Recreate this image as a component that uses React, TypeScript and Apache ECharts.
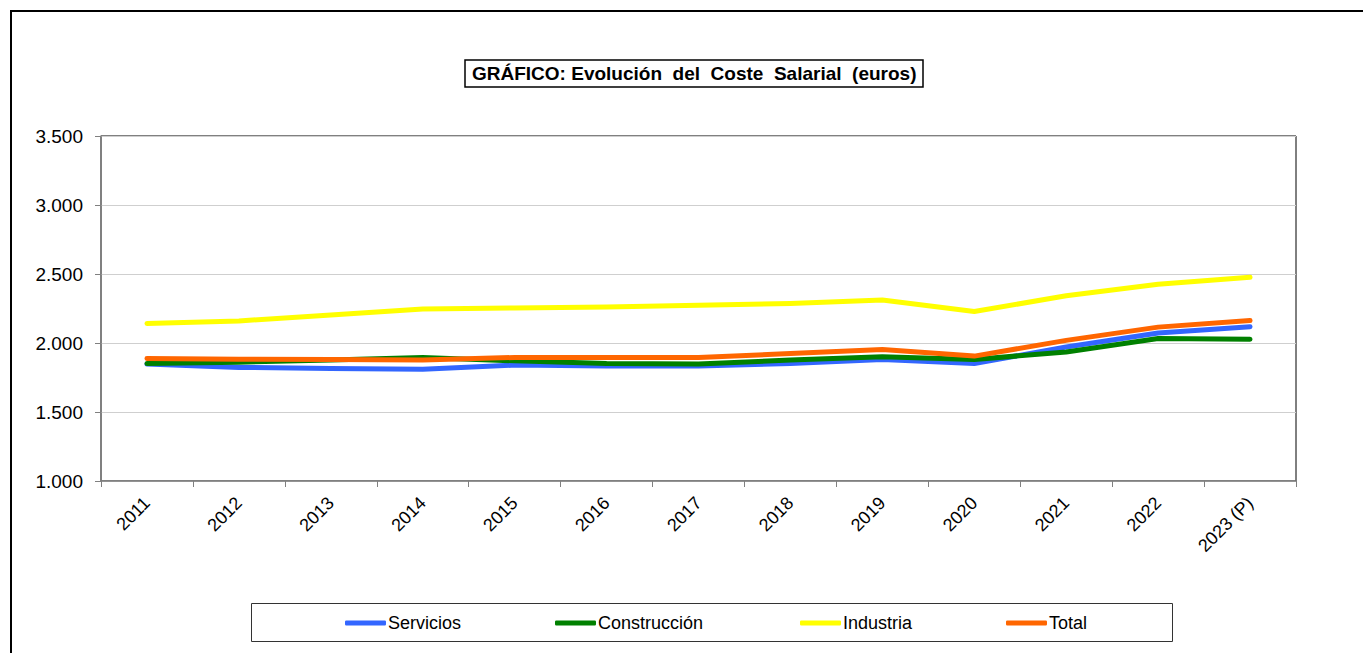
import React, { useEffect, useRef } from "react";
import * as echarts from "echarts";

const categories = ["2011", "2012", "2013", "2014", "2015", "2016", "2017", "2018", "2019", "2020", "2021", "2022", "2023 (P)"];
const servicios = [1847, 1823, 1816, 1809, 1840, 1833, 1833, 1852, 1881, 1852, 1971, 2072, 2118];
const construccion = [1852, 1861, 1876, 1895, 1871, 1852, 1848, 1876, 1900, 1881, 1935, 2032, 2027];
const industria = [2141, 2160, 2203, 2246, 2254, 2260, 2273, 2287, 2311, 2228, 2342, 2426, 2476];
const total = [1888, 1883, 1881, 1876, 1895, 1895, 1895, 1924, 1953, 1905, 2019, 2115, 2163];
const seriesNames = ["Servicios", "Construcción", "Industria", "Total"];
const seriesColors = ["#3366FF", "#008000", "#FFFF00", "#FF6600"];
const yTicks = { min: 1000, max: 3500, interval: 500 };
const titleText = "GRÁFICO: Evolución  del  Coste  Salarial  (euros)";

const FONT = "'Liberation Sans', Arial, sans-serif";
const legendLefts = [340, 550, 795, 1001];

export default function App() {
  const ref = useRef<HTMLDivElement>(null);
  useEffect(() => {
    if (!ref.current) return;
    const chart = echarts.init(ref.current, null, { renderer: "svg" });
    const dataArr = [servicios, construccion, industria, total];
    chart.setOption({
      animation: false,
      backgroundColor: "#ffffff",
      textStyle: { fontFamily: FONT },
      title: {
        text: titleText,
        left: 465,
        top: 60,
        padding: [4, 7, 4, 7],
        borderColor: "#000",
        borderWidth: 1.5,
        textStyle: { fontFamily: FONT, fontSize: 19, fontWeight: "bold", color: "#000" },
      },
      graphic: [
        {
          type: "rect",
          shape: { x: 11, y: 11, width: 1500, height: 800 },
          style: { fill: "none", stroke: "#000", lineWidth: 2 },
          silent: true,
        },
        {
          type: "rect",
          shape: { x: 251.5, y: 603.5, width: 921, height: 38 },
          style: { fill: "none", stroke: "#333", lineWidth: 1 },
          silent: true,
        },
      ],
      legend: seriesNames.map((n, i) => ({
        top: 609,
        left: legendLefts[i],
        icon: "roundRect",
        itemWidth: 41,
        itemHeight: 5,
        itemStyle: { borderRadius: 2.5 },
        textStyle: { fontFamily: FONT, fontSize: 18, color: "#000", padding: [0, 0, 0, -3] },
        data: [n],
      })),
      grid: {
        left: 101,
        right: 67,
        top: 136,
        bottom: 172,
        show: true,
        borderColor: "#000",
        borderWidth: 1,
        containLabel: false,
      },
      xAxis: {
        type: "category",
        data: categories,
        boundaryGap: true,
        axisLine: { lineStyle: { color: "#808080", width: 1.5 } },
        axisTick: { show: true, length: 6, lineStyle: { color: "#808080" }, alignWithLabel: false },
        axisLabel: {
          rotate: 45,
          interval: 0,
          margin: 19,
          fontFamily: FONT,
          fontSize: 18,
          color: "#000",
        },
        splitLine: { show: false },
      },
      yAxis: {
        type: "value",
        min: yTicks.min,
        max: yTicks.max,
        interval: yTicks.interval,
        axisLine: { show: true, lineStyle: { color: "#808080", width: 1.5 } },
        axisTick: { show: true, length: 6, lineStyle: { color: "#808080" } },
        axisLabel: {
          margin: 18,
          fontFamily: FONT,
          fontSize: 19,
          color: "#000",
          formatter: (v: number) => v.toLocaleString("de-DE"),
        },
        splitLine: { show: true, lineStyle: { color: "#cfcfcf", width: 1 } },
      },
      series: seriesNames.map((n, i) => ({
        name: n,
        type: "line",
        data: dataArr[i],
        symbol: "none",
        showSymbol: false,
        lineStyle: { color: seriesColors[i], width: 5, cap: "round", join: "round" },
        itemStyle: { color: seriesColors[i] },
        z: 3,
      })),
    });
    return () => chart.dispose();
  }, []);
  return (
    <div
      ref={ref}
      style={{ position: "absolute", left: 0, top: 0, width: 1363, height: 653 }}
    />
  );
}
